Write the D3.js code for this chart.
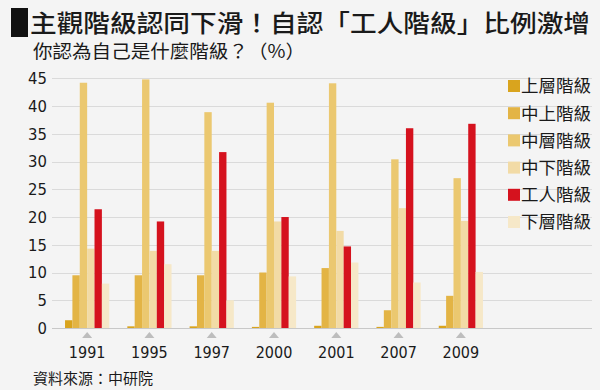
<!DOCTYPE html>
<html>
<head>
<meta charset="utf-8">
<script src="https://cdn.jsdelivr.net/npm/d3@7"></script>
<style>
  html, body { margin: 0; padding: 0; background: #f4f4f4; }
  svg { display: block; }
  .cjk { font-family: "Noto Sans CJK TC", "Noto Sans CJK SC", sans-serif; fill: #1a1a1a; }
  .num { font-family: "DejaVu Sans Condensed", "Liberation Sans Narrow", Roboto, sans-serif; font-stretch: condensed; fill: #1a1a1a; }
</style>
</head>
<body>
<div id="chart"></div>
<script>
const YEARS = ['1991', '1995', '1997', '2000', '2001', '2007', '2009'];
const CLASSES = ['上層階級', '中上階級', '中層階級', '中下階級', '工人階級', '下層階級'];
const COLORS = ['#d9a41e', '#e3b445', '#ebc870', '#f2dba6', '#d5121e', '#f6e8c8'];

// one array per class, values in the order of YEARS
const UPPER       = [1.4, 0.3, 0.3, 0.2, 0.4, 0.2, 0.4];
const UPPER_MID   = [9.5, 9.5, 9.5, 10.0, 10.8, 3.2, 5.8];
const MIDDLE      = [44.2, 44.8, 38.9, 40.6, 44.1, 30.4, 27.0];
const LOWER_MID   = [14.3, 13.9, 13.9, 19.2, 17.5, 21.6, 19.3];
const WORKING     = [21.4, 19.2, 31.7, 20.0, 14.7, 36.0, 36.8];
const LOWER       = [8.0, 11.5, 5.0, 9.3, 11.8, 8.2, 10.1];
const SERIES = [UPPER, UPPER_MID, MIDDLE, LOWER_MID, WORKING, LOWER];

const Y_TICKS = [0, 5, 10, 15, 20, 25, 30, 35, 40, 45];

const w = 600, h = 390;
const svg = d3.select('#chart').append('svg')
  .attr('width', w).attr('height', h);

svg.append('rect').attr('width', w).attr('height', h).attr('fill', '#f4f4f4');

// title block
svg.append('rect')
  .attr('x', 11).attr('y', 8).attr('width', 17).attr('height', 29)
  .attr('fill', '#111');
svg.append('text')
  .attr('class', 'cjk')
  .attr('x', 30).attr('y', 32)
  .attr('font-size', '24px').attr('font-weight', 500)
  .attr('textLength', 560).attr('lengthAdjust', 'spacingAndGlyphs')
  .text('主觀階級認同下滑！自認「工人階級」比例激增');
svg.append('text')
  .attr('class', 'cjk')
  .attr('x', 33).attr('y', 58)
  .attr('font-size', '18.5px')
  .attr('textLength', 272).attr('lengthAdjust', 'spacingAndGlyphs')
  .text('你認為自己是什麼階級？（%）');

const y = d3.scaleLinear().domain([0, 45]).range([328, 78.3]);

const x0 = d3.scaleBand()
  .domain(YEARS)
  .range([56, 492])
  .paddingInner(0.29)
  .paddingOuter(0.145);

const x1 = d3.scaleBand()
  .domain(d3.range(CLASSES.length))
  .range([0, x0.bandwidth()]);

// gridlines
svg.append('g')
  .selectAll('line')
  .data(Y_TICKS)
  .join('line')
  .attr('x1', 52).attr('x2', 592)
  .attr('y1', d => Math.round(y(d)) + 0.5)
  .attr('y2', d => Math.round(y(d)) + 0.5)
  .attr('stroke', d => d === 0 ? '#c8c8c8' : '#dadada')
  .attr('stroke-width', 1);

// y tick labels
svg.append('g')
  .selectAll('text')
  .data(Y_TICKS)
  .join('text')
  .attr('class', 'num')
  .attr('x', 47)
  .attr('y', d => y(d))
  .attr('dy', '0.36em')
  .attr('text-anchor', 'end')
  .attr('font-size', '16.5px')
  .text(d => d);

// bars
const groups = svg.append('g')
  .selectAll('g')
  .data(YEARS)
  .join('g')
  .attr('transform', d => `translate(${x0(d)},0)`);

groups.selectAll('rect')
  .data((d, i) => SERIES.map((s, k) => ({ k, v: s[i] })))
  .join('rect')
  .attr('x', d => x1(d.k))
  .attr('width', x1.bandwidth())
  .attr('y', d => y(d.v))
  .attr('height', d => y(0) - y(d.v))
  .attr('fill', d => COLORS[d.k]);

// triangle markers and year labels
const cx = d => x0(d) + x0.bandwidth() / 2;
svg.append('g')
  .selectAll('path')
  .data(YEARS)
  .join('path')
  .attr('d', d => `M${cx(d) - 5},338 L${cx(d) + 5},338 L${cx(d)},332 Z`)
  .attr('fill', '#bdbdbd');

svg.append('g')
  .selectAll('text')
  .data(YEARS)
  .join('text')
  .attr('class', 'num')
  .attr('x', cx)
  .attr('y', 358)
  .attr('text-anchor', 'middle')
  .attr('font-size', '16px')
  .text(d => d);

// legend
const legend = svg.append('g')
  .selectAll('g')
  .data(CLASSES)
  .join('g')
  .attr('transform', (d, i) => `translate(508,${86 + i * 27.2})`);

legend.append('rect')
  .attr('x', 0).attr('y', -6).attr('width', 12).attr('height', 12)
  .attr('fill', (d, i) => COLORS[i]);

legend.append('text')
  .attr('class', 'cjk')
  .attr('x', 13).attr('y', 0)
  .attr('dy', '0.36em')
  .attr('font-size', '17.5px')
  .text(d => d);

// source
svg.append('text')
  .attr('class', 'cjk')
  .attr('x', 33).attr('y', 384)
  .attr('font-size', '15px')
  .attr('fill', '#333')
  .text('資料來源：中研院');
</script>
</body>
</html>
